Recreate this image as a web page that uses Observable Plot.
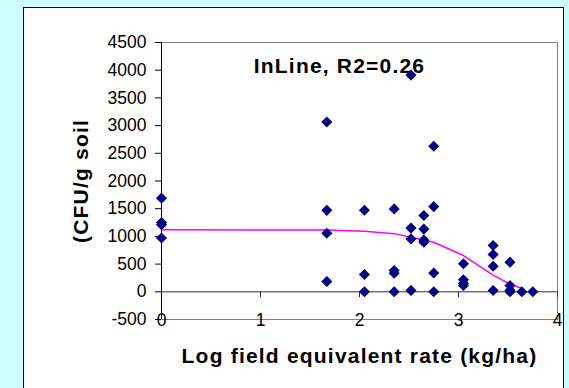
<!DOCTYPE html>
<html>
<head>
<meta charset="utf-8">
<script src="https://cdn.jsdelivr.net/npm/d3@7"></script>
<script src="https://cdn.jsdelivr.net/npm/@observablehq/plot@0.6"></script>
<style>
  html, body { margin: 0; padding: 0; background: #CCFFFF; }
  #wrap { position: relative; width: 569px; height: 388px; overflow: hidden; background: #CCFFFF; }
  #panel { position: absolute; left: 23px; top: 7px; width: 539px; height: 400px;
           background: #FFFFFF; border: 1px solid #000; }
  #chart { position: absolute; left: 0; top: 0; }
</style>
</head>
<body>
<div id="wrap"><div id="panel"></div><div id="chart"></div></div>
<script>
// Observed points: log field equivalent rate (kg/ha) vs CFU/g soil
const pointX = [0, 0, 0, 0,
  1.67, 1.67, 1.67, 1.67,
  2.05, 2.05, 2.05,
  2.35, 2.35, 2.35, 2.35,
  2.52, 2.52, 2.52, 2.52,
  2.65, 2.65, 2.65, 2.65,
  2.75, 2.75, 2.75, 2.75,
  3.05, 3.05, 3.05, 3.05,
  3.35, 3.35, 3.35, 3.35,
  3.52, 3.52, 3.52, 3.52,
  3.64, 3.75];
const pointY = [1690, 1250, 1210, 970,
  3065, 1470, 1058, 186,
  1472, 312, 0,
  1496, 385, 337, 0,
  3912, 1150, 955, 25,
  1376, 1132, 935, 895,
  2626, 1538, 340, 0,
  505, 216, 155, 114,
  836, 673, 462, 23,
  535, 114, 30, 0,
  0, 0];

// Fitted curve
const fitX = [0, 1.67, 2.05, 2.35, 2.52, 2.65, 2.75, 3.05, 3.35, 3.52, 3.64];
const fitY = [1120, 1115, 1095, 1050, 985, 935, 895, 655, 300, 140, 60];

// Axis ticks and texts
const xTicks = [0, 1, 2, 3, 4];
const yTicks = [-500, 0, 500, 1000, 1500, 2000, 2500, 3000, 3500, 4000, 4500];
const titleText = "InLine, R2=0.26";
const xLabel = "Log field equivalent rate (kg/ha)";
const yLabel = "(CFU/g soil";

const points = pointX.map((x, i) => ({x, y: pointY[i]}));
const fit = fitX.map((x, i) => ({x, y: fitY[i]}));
const FONT = "'Liberation Sans', Arial, sans-serif";

const chart = Plot.plot({
  width: 569,
  height: 388,
  marginLeft: 161,
  marginRight: 12,
  marginTop: 42,
  marginBottom: 69,
  style: {background: "transparent", fontFamily: FONT, fontSize: "17.5px", color: "#000"},
  x: {domain: [0, 4]},
  y: {domain: [-500, 4500]},
  marks: [
    Plot.frame({stroke: "#808080"}),
    Plot.ruleY([0], {stroke: "#333"}),
    Plot.ruleX(xTicks, {x: d => d, y1: 0, y2: 0, insetBottom: -6, stroke: "#333"}),
    Plot.ruleX([0], {stroke: "#000"}),
    Plot.axisY({ticks: yTicks, tickFormat: d => String(d), tickSize: 6, tickPadding: 9, label: null, stroke: "#000", fill: "#000", fontSize: 17.5}),
    Plot.axisX({ticks: xTicks, tickFormat: d => String(d), tickSize: 0, tickPadding: 0, dy: -6, label: null, fill: "#000", fontSize: 17.5}),
    Plot.line(fit, {x: "x", y: "y", stroke: "#FF00FF", strokeWidth: 1.5}),
    Plot.dot(points, {x: "x", y: "y", symbol: "diamond2", r: 5, fill: "#000080", stroke: "none"}),
    Plot.text([titleText], {frameAnchor: "top", lineAnchor: "middle", textAnchor: "middle", dx: -20, dy: 24, text: d => d,
      fontSize: 21, fontWeight: "bold", fill: "#000", fontFamily: FONT}),
    Plot.text([xLabel], {frameAnchor: "bottom", lineAnchor: "middle", textAnchor: "middle", dy: 37, text: d => d,
      fontSize: 21, fontWeight: "bold", fill: "#000", fontFamily: FONT}),
    Plot.text([yLabel], {frameAnchor: "left", lineAnchor: "middle", textAnchor: "middle", dx: -80, rotate: -90, text: d => d,
      fontSize: 21, fontWeight: "bold", fill: "#000", fontFamily: FONT})
  ]
});
d3.select(chart).selectAll("g[aria-label='text'] text").attr("letter-spacing", "1.2px");
document.getElementById("chart").appendChild(chart);
</script>
</body>
</html>
